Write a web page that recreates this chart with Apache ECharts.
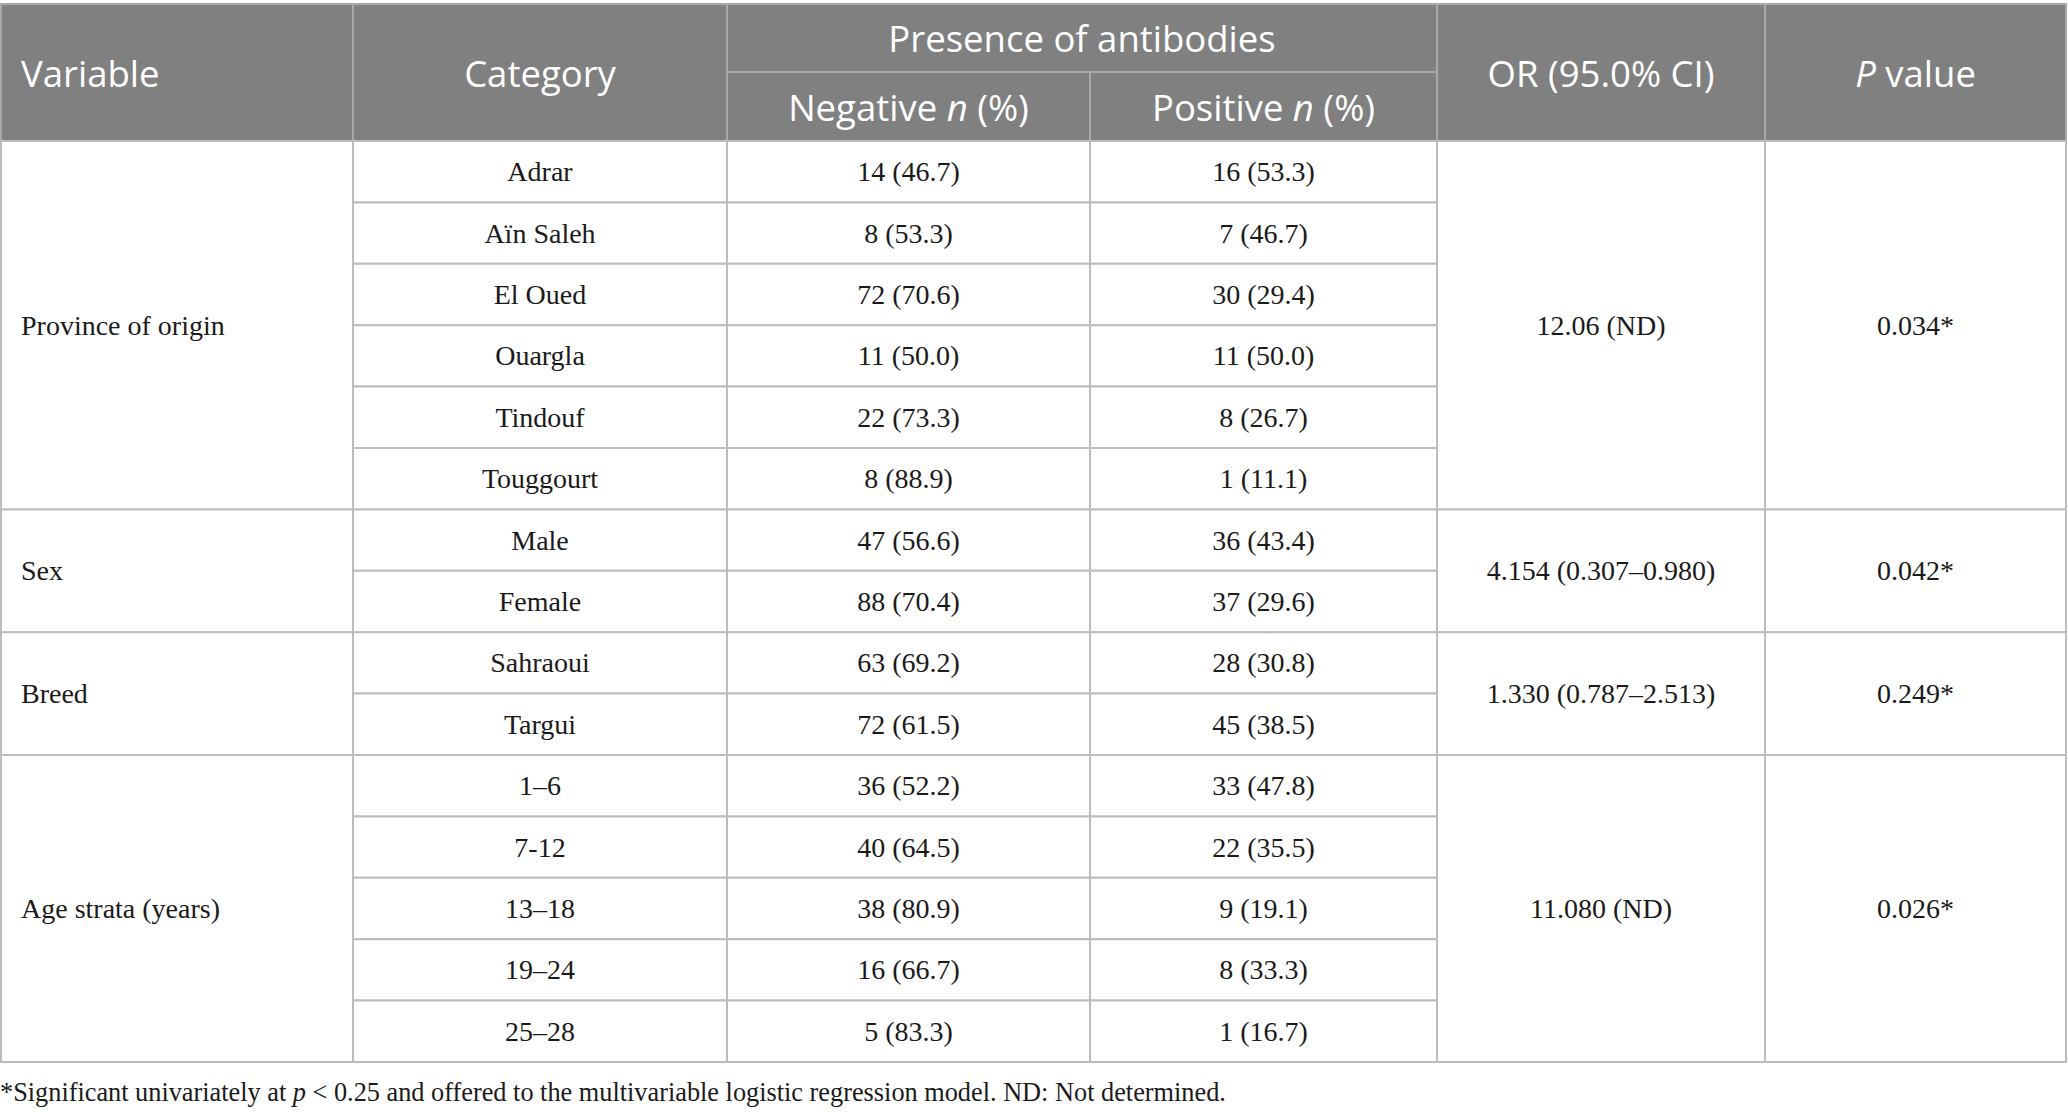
<!DOCTYPE html>
<html><head><meta charset="utf-8">
<script src="https://cdn.jsdelivr.net/npm/echarts@6/dist/echarts.min.js"></script>
<style>html,body{margin:0;padding:0;background:#fff}#c{width:2068px;height:1116px}</style>
</head><body><div id="c"></div>
<script>
// ---- data ----
const variables = ['Province of origin', 'Sex', 'Breed', 'Age strata (years)'];
const groupSizes = [6, 2, 2, 5];
const categories = ['Adrar', 'Aïn Saleh', 'El Oued', 'Ouargla', 'Tindouf', 'Touggourt',
  'Male', 'Female', 'Sahraoui', 'Targui', '1–6', '7-12', '13–18', '19–24', '25–28'];
const negativeN = [14, 8, 72, 11, 22, 8, 47, 88, 63, 72, 36, 40, 38, 16, 5];
const negativePct = [46.7, 53.3, 70.6, 50.0, 73.3, 88.9, 56.6, 70.4, 69.2, 61.5, 52.2, 64.5, 80.9, 66.7, 83.3];
const positiveN = [16, 7, 30, 11, 8, 1, 36, 37, 28, 45, 33, 22, 9, 8, 1];
const positivePct = [53.3, 46.7, 29.4, 50.0, 26.7, 11.1, 43.4, 29.6, 30.8, 38.5, 47.8, 35.5, 19.1, 33.3, 16.7];
const orCI = ['12.06 (ND)', '4.154 (0.307–0.980)', '1.330 (0.787–2.513)', '11.080 (ND)'];
const pValues = ['0.034*', '0.042*', '0.249*', '0.026*'];
const headers = ['Variable', 'Category', 'Presence of antibodies', 'Negative {i|n} (%)', 'Positive {i|n} (%)', 'OR (95.0% CI)', '{i|P} value'];
const footnote = '*Significant univariately at {i|p} < 0.25 and offered to the multivariable logistic regression model. ND: Not determined.';

// ---- layout ----
const W = 2068, H = 1116;
const colEdges = [1, 353, 727, 1090, 1437, 1765, 2066];
const headTop = 4, headMid = 72, headBottom = 141, rowH = 61.4;
const padLeft = 20;
const headFont = 'Open Sans', bodyFont = 'Liberation Serif';
const headSize = 36.5, bodySize = 28, footSize = 26.3;

const cells = [];
function addCell(c0, c1, y0, y1, text, kind, align) {
  cells.push({ x0: colEdges[c0], x1: colEdges[c1], y0, y1, text, kind, align });
}
// header
addCell(0, 1, headTop, headBottom, headers[0], 'head', 'left');
addCell(1, 2, headTop, headBottom, headers[1], 'head', 'center');
addCell(2, 4, headTop, headMid, headers[2], 'head', 'center');
addCell(2, 3, headMid, headBottom, headers[3], 'head', 'center');
addCell(3, 4, headMid, headBottom, headers[4], 'head', 'center');
addCell(4, 5, headTop, headBottom, headers[5], 'head', 'center');
addCell(5, 6, headTop, headBottom, headers[6], 'head', 'center');
// body
let r = 0;
variables.forEach((v, g) => {
  const n = groupSizes[g];
  const gy0 = headBottom + r * rowH, gy1 = headBottom + (r + n) * rowH;
  addCell(0, 1, gy0, gy1, v, 'body', 'left');
  for (let k = 0; k < n; k++) {
    const i = r + k;
    const y0 = headBottom + i * rowH, y1 = y0 + rowH;
    addCell(1, 2, y0, y1, categories[i], 'body', 'center');
    addCell(2, 3, y0, y1, negativeN[i] + ' (' + negativePct[i].toFixed(1) + ')', 'body', 'center');
    addCell(3, 4, y0, y1, positiveN[i] + ' (' + positivePct[i].toFixed(1) + ')', 'body', 'center');
  }
  addCell(4, 5, gy0, gy1, orCI[g], 'body', 'center');
  addCell(5, 6, gy0, gy1, pValues[g], 'body', 'center');
  r += n;
});
const footY = 1092;
cells.push({ x0: 0, x1: 0, y0: footY, y1: footY, text: footnote, kind: 'foot', align: 'left' });

const chart = echarts.init(document.getElementById('c'), null, { renderer: 'svg' });
chart.setOption({
  animation: false,
  backgroundColor: '#ffffff',
  grid: { left: 0, right: 0, top: 0, bottom: 0 },
  xAxis: { type: 'value', min: 0, max: W, show: false },
  yAxis: { type: 'value', min: 0, max: H, inverse: true, show: false },
  series: [{
    type: 'custom',
    coordinateSystem: 'cartesian2d',
    clip: false,
    data: cells.map(c => [c.x0, c.y0, c.x1, c.y1]),
    encode: { x: [0, 2], y: [1, 3] },
    renderItem: function (params, api) {
      const c = cells[params.dataIndex];
      const p0 = api.coord([api.value(0), api.value(1)]);
      const p1 = api.coord([api.value(2), api.value(3)]);
      const children = [];
      const isHead = c.kind === 'head';
      const font = isHead ? headFont : bodyFont;
      const size = c.kind === 'head' ? headSize : (c.kind === 'foot' ? footSize : bodySize);
      const color = isHead ? '#ffffff' : '#1a1a1a';
      if (c.kind !== 'foot') {
        children.push({
          type: 'rect',
          shape: { x: p0[0], y: p0[1], width: p1[0] - p0[0], height: p1[1] - p0[1] },
          style: { fill: isHead ? '#808080' : '#ffffff', stroke: isHead ? '#a9a9a9' : '#bdbdbd', lineWidth: 2 }
        });
      }
      const tx = c.align === 'left' ? p0[0] + (c.kind === 'foot' ? 0 : padLeft) : (p0[0] + p1[0]) / 2;
      const ty = (p0[1] + p1[1]) / 2;
      children.push({
        type: 'text',
        x: tx, y: ty,
        style: {
          text: c.text,
          fontFamily: font, fontSize: size, fill: color,
          align: c.align, verticalAlign: 'middle',
          rich: { i: { fontFamily: font, fontSize: size, fontStyle: 'italic', fill: color } }
        }
      });
      return { type: 'group', children };
    }
  }]
});
</script>
</body></html>
